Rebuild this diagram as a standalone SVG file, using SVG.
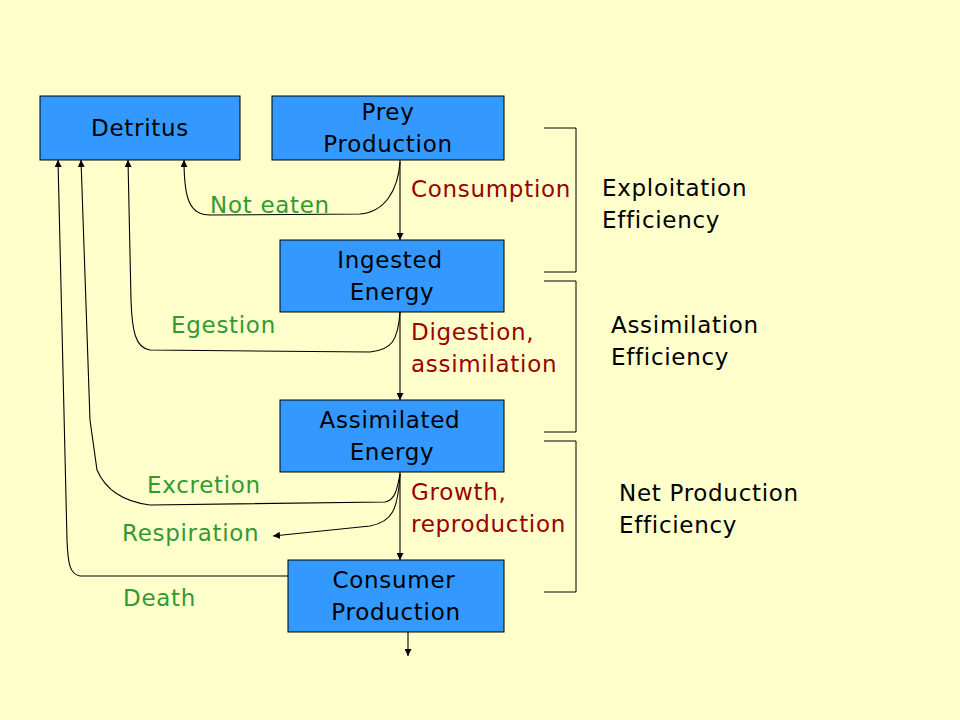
<svg xmlns="http://www.w3.org/2000/svg" width="960" height="720" viewBox="0 0 960 720">
<defs>
<style>
.box{fill:#3399FF;stroke:#000;stroke-width:1}
.t{font-family:"Comic Sans MS","DejaVu Sans",sans-serif;font-size:23px;letter-spacing:0.7px}
.b{fill:#000;text-anchor:middle}
.r{fill:#990000}
.g{fill:#339933}
.k{fill:#000}
.c{fill:none;stroke:#000;stroke-width:1.1}
.br{fill:none;stroke:#000;stroke-width:1}
</style>
<marker id="ah" viewBox="0 0 10 10" refX="10" refY="5" markerWidth="7" markerHeight="7" orient="auto" markerUnits="userSpaceOnUse">
<path d="M0,0 L10,5 L0,10 z" fill="#000"/>
</marker>
</defs>
<rect width="960" height="720" fill="#FFFFCC"/>
<g id="connectors">
<path class="c" d="M400,160 L400,240" marker-end="url(#ah)"/>
<path class="c" d="M400,312 L400,400" marker-end="url(#ah)"/>
<path class="c" d="M400,472 L400,560" marker-end="url(#ah)"/>
<path class="c" d="M408,632 L408,656" marker-end="url(#ah)"/>
<path class="c" d="M400,162 C398,190 385,212 360,214 L210,215 C190,215 184,200 184,160" marker-end="url(#ah)"/>
<path class="c" d="M400,312 C398,340 392,350 370,352 L150,350 C135,348 132,330 131,300 L128,160" marker-end="url(#ah)"/>
<path class="c" d="M400,474 C397,490 395,500 385,502 L150,505 Q110,500 97,470 L90,420 L81,160" marker-end="url(#ah)"/>
<path class="c" d="M400,474 C398,510 392,522 370,526 L273,536" marker-end="url(#ah)"/>
<path class="c" d="M288,576 L80,576 C70,574 68,565 67,540 L58,160" marker-end="url(#ah)"/>
</g>
<g id="detritus"><rect class="box" x="40" y="96" width="200" height="64"/><text class="t b" x="140" y="136">Detritus</text></g>
<g id="prey"><rect class="box" x="272" y="96" width="232" height="64"/><text class="t b" x="388" y="120">Prey</text><text class="t b" x="388" y="152">Production</text></g>
<g id="ingested"><rect class="box" x="280" y="240" width="224" height="72"/><text class="t b" x="390" y="268">Ingested</text><text class="t b" x="392" y="300">Energy</text></g>
<g id="assimilated"><rect class="box" x="280" y="400" width="224" height="72"/><text class="t b" x="390" y="428">Assimilated</text><text class="t b" x="392" y="460">Energy</text></g>
<g id="consumer"><rect class="box" x="288" y="560" width="216" height="72"/><text class="t b" x="394" y="588">Consumer</text><text class="t b" x="396" y="620">Production</text></g>
<g id="labels">
<text class="t r" x="411" y="197">Consumption</text>
<text class="t g" x="210" y="213">Not eaten</text>
<text class="t g" x="171" y="333">Egestion</text>
<text class="t r" x="411" y="340">Digestion,</text>
<text class="t r" x="411" y="372">assimilation</text>
<text class="t g" x="147" y="493">Excretion</text>
<text class="t r" x="411" y="500">Growth,</text>
<text class="t r" x="411" y="532">reproduction</text>
<text class="t g" x="122" y="541">Respiration</text>
<text class="t g" x="123" y="606">Death</text>
</g>
<g id="brackets">
<path class="br" d="M544,128 L576,128 L576,272 L544,272"/>
<path class="br" d="M544,281 L576,281 L576,432 L544,432"/>
<path class="br" d="M544,441 L576,441 L576,592 L544,592"/>
</g>
<g id="efficiencies">
<text class="t k" x="602" y="196">Exploitation</text>
<text class="t k" x="602" y="228">Efficiency</text>
<text class="t k" x="611" y="333">Assimilation</text>
<text class="t k" x="611" y="365">Efficiency</text>
<text class="t k" x="619" y="501">Net Production</text>
<text class="t k" x="619" y="533">Efficiency</text>
</g>
</svg>
